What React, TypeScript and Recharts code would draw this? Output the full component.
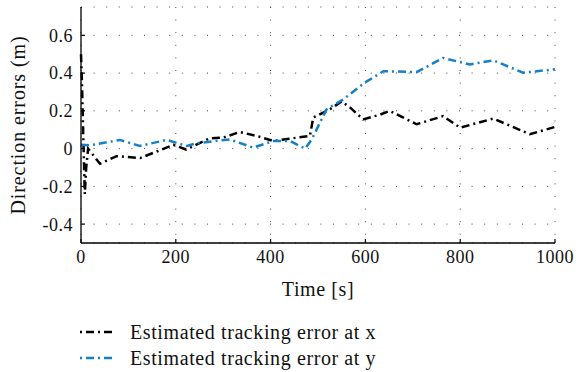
import { CartesianGrid, Line, LineChart, XAxis, YAxis } from "recharts";

// estimated tracking error at x
const xTimes = [0, 2, 4, 6, 8, 11, 15, 40, 75, 125, 195, 222, 272, 300, 335, 371, 406, 441, 483, 490, 525, 550, 568, 595, 631, 651, 708, 764, 800, 870, 947, 1000];
const xErrors = [0.5, 0.35, 0.15, -0.05, -0.24, -0.1, 0.0, -0.08, -0.04, -0.05, 0.02, -0.005, 0.055, 0.058, 0.088, 0.067, 0.04, 0.053, 0.067, 0.165, 0.208, 0.25, 0.217, 0.155, 0.18, 0.2, 0.129, 0.172, 0.111, 0.159, 0.076, 0.115];

// estimated tracking error at y
const yTimes = [0, 19, 82, 124, 181, 223, 244, 314, 363, 406, 441, 473, 487, 518, 553, 599, 638, 708, 764, 820, 870, 933, 1000];
const yErrors = [0.02, 0.017, 0.046, 0.014, 0.046, 0.014, 0.028, 0.049, 0.005, 0.04, 0.04, 0.0, 0.05, 0.208, 0.26, 0.35, 0.41, 0.405, 0.48, 0.446, 0.467, 0.402, 0.42];

const xTicks = [0, 200, 400, 600, 800, 1000];
const yTicks = [-0.4, -0.2, 0, 0.2, 0.4, 0.6];

const seriesX = xTimes.map((t, i) => ({ t, v: xErrors[i] }));
const seriesY = yTimes.map((t, i) => ({ t, v: yErrors[i] }));

const FONT = "'Liberation Serif', 'DejaVu Serif', serif";
const BLUE = "#1580c8";
const DASH = "8 4 2 4";

const legendItems = [
  { name: "Estimated tracking error at x", color: "#000" },
  { name: "Estimated tracking error at y", color: BLUE },
];

const tickStyle = { fill: "#111", fontSize: 18, fontFamily: FONT, letterSpacing: 0.5 };

export default function App() {
  return (
    <div style={{ position: "absolute", left: 0, top: 0, width: 578, height: 372, background: "#fff", fontFamily: FONT }}>
      <LineChart width={578} height={372} margin={{ top: 7, right: 23, bottom: 73, left: 0 }}>
        <CartesianGrid stroke="#444" strokeDasharray="1 11.6" strokeWidth={1} />
        <XAxis
          type="number"
          dataKey="t"
          domain={[0, 1000]}
          ticks={xTicks}
          height={56}
          tickSize={-4}
          tickMargin={11}
          axisLine={{ stroke: "#000", strokeWidth: 1.3 }}
          tickLine={{ stroke: "#000", strokeWidth: 1.2 }}
          tick={tickStyle}
          label={{ value: "Time [s]", position: "insideBottom", offset: 3, fill: "#111", fontSize: 20, fontFamily: FONT, letterSpacing: 0.6 }}
        />
        <YAxis
          type="number"
          domain={[-0.5, 0.75]}
          ticks={yTicks}
          width={81}
          tickSize={-4}
          tickMargin={12}
          tickFormatter={(v: number) => (v === 0 ? "0" : v.toFixed(1))}
          axisLine={{ stroke: "#000", strokeWidth: 1.3 }}
          tickLine={{ stroke: "#000", strokeWidth: 1.2 }}
          tick={tickStyle}
          label={{
            value: "Direction errors (m)",
            angle: -90,
            position: "insideLeft",
            offset: 18,
            fill: "#111",
            fontSize: 20,
            fontFamily: FONT,
            letterSpacing: 0.9,
            style: { textAnchor: "middle" },
          }}
        />
        <Line data={seriesX} dataKey="v" type="linear" stroke="#000" strokeWidth={2.5} strokeDasharray={DASH} dot={false} isAnimationActive={false} />
        <Line data={seriesY} dataKey="v" type="linear" stroke={BLUE} strokeWidth={2.5} strokeDasharray={DASH} dot={false} isAnimationActive={false} />
      </LineChart>
      {legendItems.map((item, i) => (
        <div
          key={item.name}
          style={{ position: "absolute", left: 80, top: 319 + i * 26, display: "flex", alignItems: "center", fontSize: 20, letterSpacing: 0.6, color: "#111", lineHeight: "26px" }}
        >
          <svg width={36} height={6} style={{ marginRight: 14 }}>
            <line x1={0} y1={3} x2={36} y2={3} stroke={item.color} strokeWidth={2.5} strokeDasharray="2 4 8 4" />
          </svg>
          <span>{item.name}</span>
        </div>
      ))}
    </div>
  );
}
